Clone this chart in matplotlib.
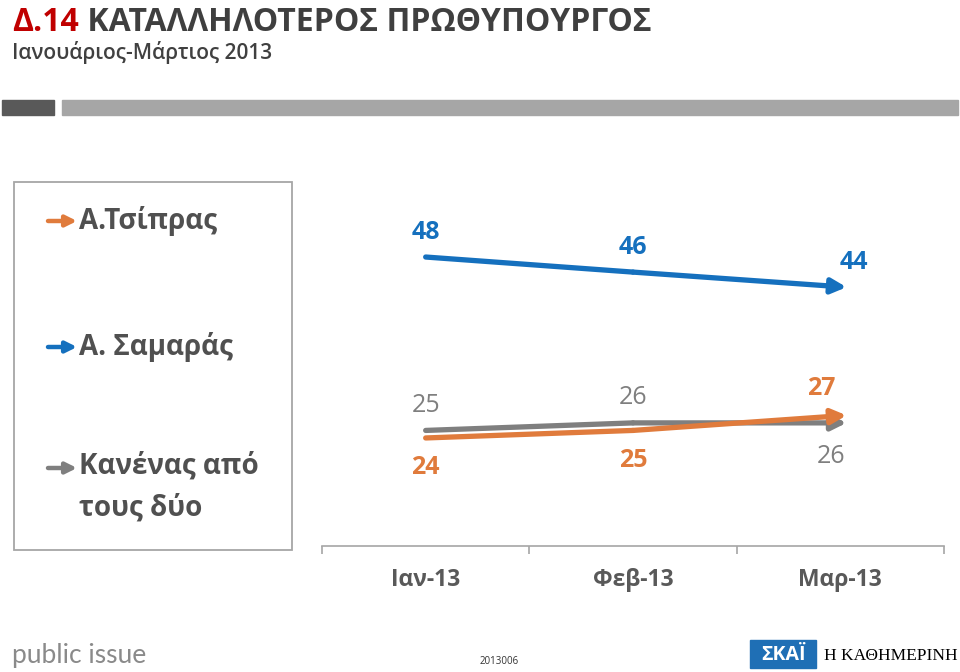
import matplotlib.pyplot as plt
from matplotlib.patches import Rectangle

plt.rcParams['font.family'] = ['Open Sans', 'DejaVu Sans']

# data
months = ['Ιαν-13', 'Φεβ-13', 'Μαρ-13']
tsipras = [48, 46, 44]
samaras = [24, 25, 27]
neither = [25, 26, 26]

BLUE = '#1570BE'
ORANGE = '#E07B3C'
GRAY = '#7F7F7F'
DARK = '#404040'

W, H = 960, 672


def fx(x):
	return x / W


def fy(y):
	# pixel y from top -> figure fraction
	return 1 - y / H


def arrow_line(ax, xs, ys, color):
	ax.plot(xs[:-1], ys[:-1], color=color, lw=3.8, solid_capstyle='round', zorder=3)
	ax.annotate('', xy=(xs[-1] + 0.03, ys[-1]), xytext=(xs[-2], ys[-2]),
				arrowprops=dict(arrowstyle='-|>', color=color, lw=3.8,
								mutation_scale=22, shrinkA=0, shrinkB=0),
				zorder=3)


def main():
	fig = plt.figure(figsize=(9.6, 6.72), dpi=100)

	# title block
	t1 = fig.text(fx(12), fy(31), 'Δ.14', color='#C00000', fontsize=23,
				  fontweight='bold', va='baseline')
	fig.text(fx(12), fy(59), 'Ιανουάριος-Μάρτιος 2013', color=DARK, fontsize=15,
			 fontweight='semibold', va='baseline')
	fig.add_artist(Rectangle((fx(2), fy(115)), fx(52), 15 / H, color='#595959',
							 transform=fig.transFigure))
	fig.add_artist(Rectangle((fx(62), fy(115)), fx(896), 15 / H, color='#A6A6A6',
							 transform=fig.transFigure))

	# chart
	ax = fig.add_axes([fx(322), (H - 546) / H, fx(622), 356 / H])
	ax.annotate(' ΚΑΤΑΛΛΗΛΟΤΕΡΟΣ ΠΡΩΘΥΠΟΥΡΓΟΣ', xy=(1, 0), xycoords=t1,
				va='bottom', ha='left', color='#3F3F3F', fontsize=23,
				fontweight='bold', annotation_clip=False)

	x = list(range(len(months)))
	arrow_line(ax, x, tsipras, BLUE)
	arrow_line(ax, x, neither, GRAY)
	arrow_line(ax, x, samaras, ORANGE)

	# value labels (offsets in points)
	lab = dict(fontsize=18, fontweight='bold', ha='center', va='center',
			   textcoords='offset points')
	for i, v in enumerate(tsipras):
		ax.annotate(str(v), (x[i], v), xytext=(10 if i == 2 else 0, 18), color=BLUE, **lab)
	samaras_off = [(0, -21), (0, -22), (-14, 19)]
	for i, v in enumerate(samaras):
		ax.annotate(str(v), (x[i], v), xytext=samaras_off[i], color=ORANGE, **lab)
	neither_off = [(0, 18), (0, 18), (-7, -24)]
	for i, v in enumerate(neither):
		ax.annotate(str(v), (x[i], v), xytext=neither_off[i], color=GRAY,
					fontsize=18, ha='center', va='center',
					textcoords='offset points')

	ax.set_xlim(-0.5, 2.5)
	ax.set_ylim(9.67, 56.89)
	for s in ['top', 'left', 'right']:
		ax.spines[s].set_visible(False)
	ax.spines['bottom'].set_color('#A6A6A6')
	ax.spines['bottom'].set_linewidth(1.2)
	ax.set_yticks([])
	ax.set_xticks(x)
	ax.set_xticklabels(months, fontsize=16.5, fontweight='bold', color='#595959')
	ax.tick_params(axis='x', which='major', length=0, pad=16)
	ax.set_xticks([-0.5, 0.5, 1.5, 2.5], minor=True)
	ax.tick_params(axis='x', which='minor', length=6, width=1.2, color='#A6A6A6',
				   direction='out')

	# legend box
	fig.add_artist(Rectangle((fx(14), fy(550)), fx(278), 368 / H, fill=False,
							 edgecolor='#A6A6A6', lw=1.3, transform=fig.transFigure))
	legend = [('Α.Τσίπρας', ORANGE, 221), ('Α. Σαμαράς', BLUE, 347),
			  ('Κανένας από\nτους δύο', GRAY, 468)]
	for name, col, y in legend:
		fig.add_artist(plt.Annotation('', xy=(fx(77), fy(y)), xytext=(fx(48), fy(y)),
									  xycoords='figure fraction',
									  arrowprops=dict(arrowstyle='-|>', color=col, lw=3.2,
													  mutation_scale=16, shrinkA=0,
													  shrinkB=0)))
		two = '\n' in name
		fig.text(fx(79), fy(y - 16) if two else fy(y), name, color='#505050',
				 fontsize=20, fontweight='bold', va='top' if two else 'center',
				 linespacing=1.55)

	# footer
	fig.text(fx(12), fy(655), 'public issue', color='#8A8A8A', fontsize=19,
			 family=['Lato', 'DejaVu Sans'], va='center')
	fig.text(fx(499), fy(661), '2013006', color='#333333', fontsize=7,
			 ha='center', va='center')
	fig.add_artist(Rectangle((fx(750), fy(668)), fx(66), 28 / H, color='#1F6FB5',
							 transform=fig.transFigure))
	fig.text(fx(783), fy(655), 'ΣΚΑΪ', color='white', fontsize=14, fontweight='bold',
			 ha='center', va='center')
	fig.text(fx(958), fy(656), 'Η ΚΑΘΗΜΕΡΙΝΗ', color='black', fontsize=12.5,
			 family=['Liberation Serif', 'DejaVu Serif'], ha='right', va='center')

	plt.savefig('out.png', dpi=100)


if __name__ == '__main__':
	main()
